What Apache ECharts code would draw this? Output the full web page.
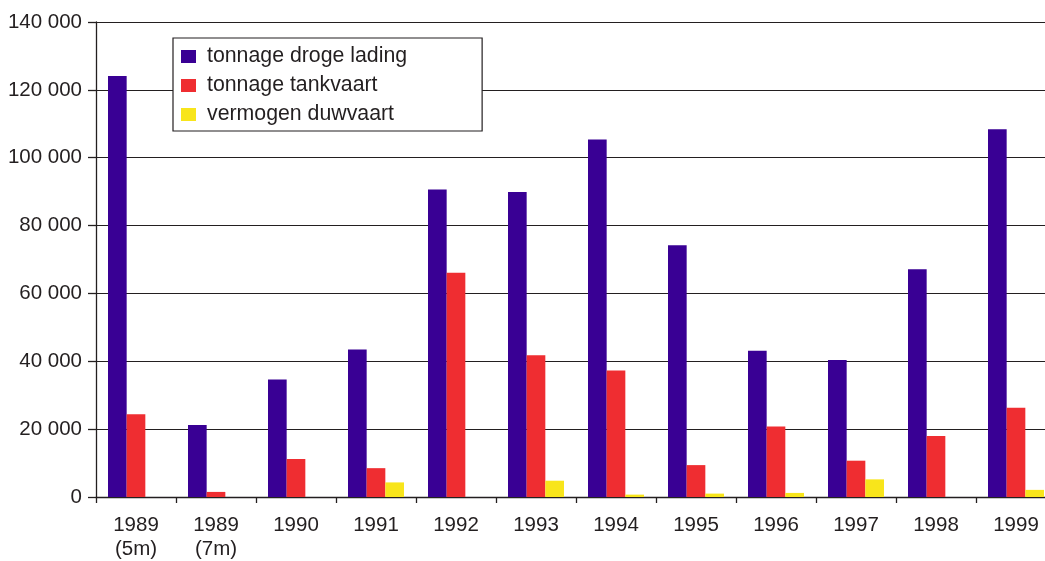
<!DOCTYPE html>
<html>
<head>
<meta charset="utf-8">
<script src="https://cdn.jsdelivr.net/npm/echarts@6/dist/echarts.min.js"></script>
<style>
  html, body { margin: 0; padding: 0; background: #fff; overflow: hidden; }
  #main { width: 1056px; height: 561px; }
</style>
</head>
<body>
<div id="main"></div>
<script>
var categories = ['1989\n(5m)', '1989\n(7m)', '1990', '1991', '1992', '1993', '1994', '1995', '1996', '1997', '1998', '1999'];
var drogeLading = [124100, 21200, 34600, 43500, 90600, 89900, 105400, 74200, 43100, 40400, 67100, 108400];
var tankvaart = [24400, 1500, 11200, 8500, 66100, 41800, 37300, 9400, 20800, 10700, 18000, 26300];
var duwvaart = [0, 0, 0, 4300, 0, 4800, 700, 1000, 1200, 5200, 0, 2100];

var textColor = '#231f20';
var fontFam = '"Liberation Sans", Arial, sans-serif';

function fmt(v) {
    // thousands with a space, like "140 000"
    return String(v).replace(/\B(?=(\d{3})+(?!\d))/g, ' ');
}

var dom = document.getElementById('main');
var myChart = echarts.init(dom);
var option = {
    backgroundColor: '#fff',
    animation: false,
    textStyle: { fontFamily: fontFam, color: textColor },
    grid: { left: 96, top: 22, width: 960, height: 476 },
    legend: {
        orient: 'vertical',
        left: 173,
        top: 38,
        z: 20,
        backgroundColor: '#fff',
        borderColor: textColor,
        borderWidth: 1.2,
        padding: [8, 75, 6, 8],
        itemWidth: 15,
        itemHeight: 13,
        itemGap: 8,
        icon: 'rect',
        selectedMode: false,
        textStyle: {
            fontFamily: fontFam,
            fontSize: 21.3,
            lineHeight: 20,
            color: textColor,
            padding: [0, 0, 0, 6]
        },
        data: ['tonnage droge lading', 'tonnage tankvaart', 'vermogen duwvaart']
    },
    xAxis: {
        type: 'category',
        data: categories,
        axisLine: { lineStyle: { color: textColor, width: 1.3 } },
        axisTick: { show: true, length: 6, lineStyle: { color: textColor, width: 1.3 } },
        axisLabel: {
            fontFamily: fontFam,
            fontSize: 20.5,
            lineHeight: 24,
            color: textColor,
            margin: 16
        }
    },
    yAxis: {
        type: 'value',
        min: 0,
        max: 140000,
        interval: 20000,
        axisLine: { show: true, lineStyle: { color: textColor, width: 1.3 } },
        axisTick: { show: true, length: 8, lineStyle: { color: textColor, width: 1.3 } },
        splitLine: { lineStyle: { color: textColor, width: 1.2 } },
        axisLabel: {
            fontFamily: fontFam,
            fontSize: 20.5,
            color: textColor,
            margin: 14,
            formatter: fmt
        }
    },
    series: [
        {
            name: 'tonnage droge lading',
            type: 'bar',
            data: drogeLading,
            barGap: '0%',
            barCategoryGap: '30%',
            itemStyle: { color: '#390094' }
        },
        {
            name: 'tonnage tankvaart',
            type: 'bar',
            data: tankvaart,
            itemStyle: { color: '#ef2d31' }
        },
        {
            name: 'vermogen duwvaart',
            type: 'bar',
            data: duwvaart,
            itemStyle: { color: '#f8e51b' }
        }
    ]
};
myChart.setOption(option);
</script>
</body>
</html>
